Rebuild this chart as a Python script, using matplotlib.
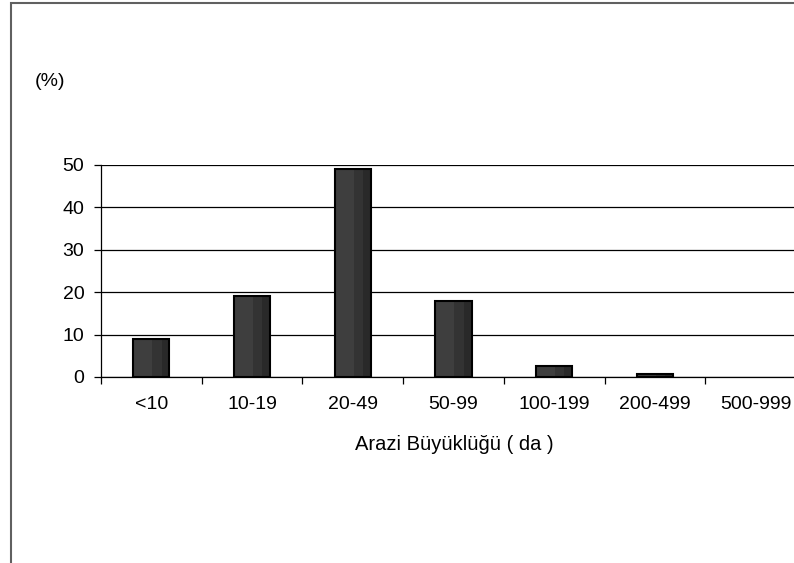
import matplotlib.pyplot as plt
import numpy as np
from matplotlib.patches import Rectangle

plt.rcParams['font.family'] = ['Liberation Sans', 'DejaVu Sans']

categories = ['<10', '10-19', '20-49', '50-99', '100-199', '200-499', '500-999']
percent = [9, 19, 49, 18, 2.5, 0.6, 0]

fig = plt.figure(figsize=(7.94, 5.63), dpi=100)
ax = fig.add_axes([101 / 794, 0.3304, 705 / 794, 0.3771])

x = np.arange(len(categories))
w = 0.36
# bar body plus two darker stripes on the right side
ax.bar(x - w / 2, percent, width=w, align='edge', color='#3e3e3e', zorder=3)
ax.bar(x - w / 2 + w * 0.52, percent, width=w * 0.26, align='edge', color='#333333', zorder=3)
ax.bar(x - w / 2 + w * 0.78, percent, width=w * 0.22, align='edge', color='#292929', zorder=3)
edges = ['black' if p > 0 else 'none' for p in percent]
ax.bar(x, percent, width=w, color='none', edgecolor=edges, linewidth=1.5, zorder=4)

ax.set_xlim(-0.5, len(categories) - 0.5)
ax.set_ylim(0, 50)
ax.set_yticks([0, 10, 20, 30, 40, 50])
ax.yaxis.grid(True, color='black', linewidth=0.9, zorder=0)
ax.set_xticks(x)
ax.set_xticklabels(categories)
ax.set_xticks(np.arange(len(categories) + 1) - 0.5, minor=True)
ax.tick_params(axis='x', which='major', length=0, pad=13.5, labelsize=14)
ax.tick_params(axis='x', which='minor', length=5, width=0.9, direction='out')
ax.tick_params(axis='y', length=5, width=0.9, pad=7, labelsize=14)
ax.spines['top'].set_visible(False)
ax.spines['right'].set_visible(False)
ax.spines['left'].set_linewidth(0.9)
ax.spines['bottom'].set_linewidth(0.9)

fig.text(35 / 794, 1 - 81 / 563, '(%)', fontsize=14, va='center')
fig.text(454 / 794, 1 - 444 / 563, 'Arazi Büyüklüğü ( da )', fontsize=14.5,
         ha='center', va='center')

# outer chart frame
fig.patches.append(Rectangle((11 / 794, -0.1), 1.2, 1.1 - 3 / 563,
                             transform=fig.transFigure, fill=False,
                             edgecolor='#606060', linewidth=1.5))

fig.savefig('out.png', dpi=100)
